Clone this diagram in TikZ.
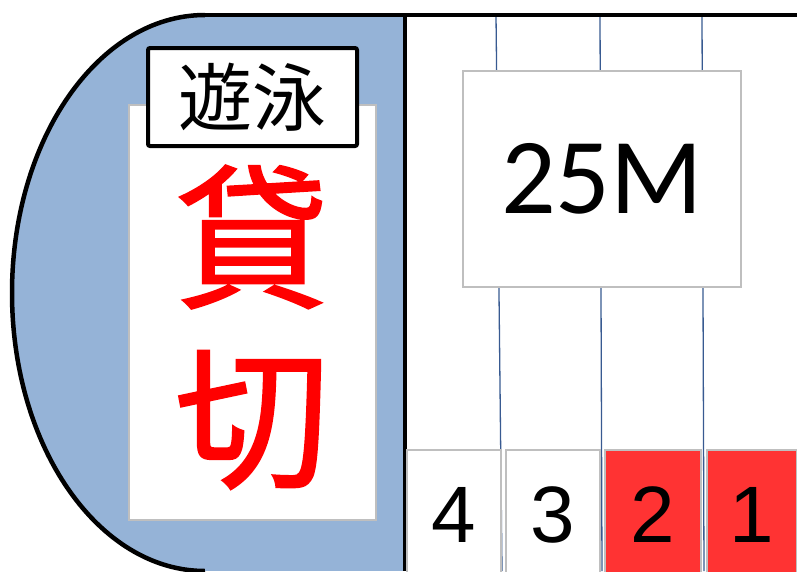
\documentclass[tikz,border=0pt]{standalone}
\usepackage{fontspec}
\usepackage{tikz}
\newfontfamily\jpfont{Noto Sans CJK JP}
\newfontfamily\jpbold[FakeBold=1.2]{Noto Sans CJK JP}
\newfontfamily\calfont{Carlito}
\newfontfamily\arialfont{Liberation Sans}
\definecolor{poolblue}{RGB}{149,179,215}
\definecolor{lanered}{RGB}{255,51,51}
\definecolor{laneblue}{RGB}{56,90,145}
\definecolor{boxgray}{RGB}{191,191,191}

\begin{document}
\begin{tikzpicture}[x=1pt,y=-1pt,
        wall/.style={draw=black, line width=4.5pt},
        laneline/.style={draw=laneblue, line width=1.3pt},
        board/.style={draw=boxgray, line width=1.5pt, fill=white, inner sep=0pt},
        lanebox/.style={board, minimum width=94pt, minimum height=130pt, font=\arialfont\fontsize{80}{80}\selectfont}]

            \useasboundingbox (0,0) rectangle (797,571);
            \clip (0,0) rectangle (797,571);

            % pool end
            \begin{scope}
                \clip (0,0) rectangle (205,571);
                \fill[poolblue] (205,293) ellipse [x radius=193, y radius=278];
                \draw[wall] (205,293) ellipse [x radius=193, y radius=278];
            \end{scope}
            \fill[poolblue] (205,15) rectangle (405,571);

            \coordinate (T1) at (496,15);
            \coordinate (T2) at (600,15);
            \coordinate (T3) at (702,15);
            \coordinate (B1) at (502,571);
            \coordinate (B2) at (602,571);
            \coordinate (B3) at (704,571);
            \draw[laneline] (T1) -- (B1);
            \draw[laneline] (T2) -- (B2);
            \draw[laneline] (T3) -- (B3);

            \coordinate (wallL) at (205,15);
            \coordinate (wallR) at (797,15);
            \coordinate (edgeT) at (405,15);
            \coordinate (edgeB) at (405,571);
            \draw[wall] (wallL) -- (wallR);
            \draw[wall] (edgeT) -- (edgeB);

            \node[board, minimum width=247pt, minimum height=415pt] (panel) at (252.5,312.5) {};
            \node[draw=black, line width=4pt, rounded corners=2pt, fill=white, minimum width=209pt, minimum height=98pt, font=\jpfont\fontsize{74}{74}\selectfont] (sign) at (252.5,97) {遊泳};
            \node[text=red, font=\jpbold\fontsize{155}{155}\selectfont] (kashi) at (252,237) {貸};
            \node[text=red, font=\jpbold\fontsize{155}{155}\selectfont] (kiri) at (252,420) {切};

            \node[board, minimum width=278pt, minimum height=216pt, font=\calfont\fontsize{108}{108}\selectfont] (dist) at (602,179) {25M};

            \node[lanebox] (lane4) at (454,515) {4};
            \node[lanebox] (lane3) at (553,515) {3};
            \node[lanebox, fill=lanered, minimum width=96pt] (lane2) at (653,515) {2};
            \node[lanebox, fill=lanered, minimum width=90pt] (lane1) at (752,515) {1};
        \end{tikzpicture}
\end{document}
